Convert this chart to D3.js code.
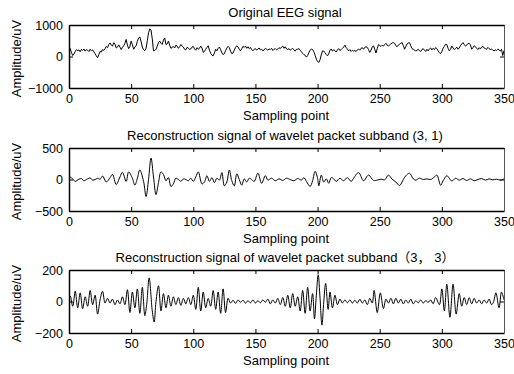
<!DOCTYPE html>
<html>
<head>
<meta charset="utf-8">
<script src="https://cdn.jsdelivr.net/npm/d3@7/dist/d3.min.js"></script>
<style>
  html, body { margin: 0; padding: 0; background: #fff; }
  svg { display: block; font-family: "Liberation Sans", Arial, "Noto Sans CJK SC", sans-serif; }
</style>
</head>
<body>
<svg id="chart" width="514" height="374"></svg>
<script>
// ---- Data ----
const titles = [
  "Original EEG signal",
  "Reconstruction signal of wavelet packet subband (3, 1)",
  "Reconstruction signal of wavelet packet subband（3， 3）"
];
const xLabel = "Sampling point";
const yLabel = "Amplitude/uV";
const xTicks = [0, 50, 100, 150, 200, 250, 300, 350];
const yDomains = [[-1000, 1000], [-500, 500], [-200, 200]];
const yTicks = [[-1000, 0, 1000], [-500, 0, 500], [-200, 0, 200]];

// Original EEG signal, one value per sampling point 0..350
const eegValues = [
  300, 250, 120, 30, 80, 160, 220, 180, 210, 150,
  230, 190, 240, 170, 220, 200, 160, 230, 180, 210,
  150, 90, 20, -40, 60, 160, 140, 220, 190, 250,
  320, 280, 380, 430, 360, 330, 440, 390, 270, 300,
  370, 300, 220, 290, 340, 420, 540, 360, 250, 320,
  490, 380, 230, 300, 340, 480, 590, 620, 470, 300,
  220, 180, 260, 500, 750, 880, 840, 560, 180, 190,
  230, 330, 440, 490, 420, 380, 520, 590, 380, 400,
  490, 360, 260, 290, 320, 270, 360, 330, 260, 310,
  380, 330, 300, 230, 210, 290, 270, 220, 240, 300,
  320, 240, 200, 280, 230, 260, 330, 270, 130, 160,
  230, 290, 340, 200, 100, 40, 20, 110, 230, 180,
  260, 300, 220, 120, 60, 90, 190, 270, 320, 280,
  170, 90, 110, 200, 290, 340, 300, 230, 180, 250,
  320, 290, 330, 260, 310, 250, 290, 220, 180, 230,
  250, 200, 240, 270, 210, 230, 180, 210, 260, 230,
  200, 240, 220, 260, 190, 230, 250, 210, 240, 280,
  250, 300, 330, 260, 310, 240, 220, 250, 200, 230,
  260, 210, 170, 230, 230, 250, 200, 150, 100, 60,
  40, -20, 30, 120, 200, 240, 220, 150, 40, -80,
  -160, -190, -100, 60, 180, 170, 120, 60, 20, 90,
  200, 240, 170, 220, 180, 140, 210, 250, 190, 220,
  260, 300, 360, 280, 240, 180, 220, 160, 200, 170,
  190, 160, 210, 240, 200, 260, 280, 230, 290, 310,
  290, 220, 130, 200, 300, 340, 230, 110, 250, 380,
  350, 320, 360, 330, 380, 420, 360, 330, 370, 400,
  430, 440, 420, 340, 310, 360, 400, 420, 440, 350,
  230, 320, 400, 430, 440, 340, 250, 230, 210, 170,
  200, 230, 180, 160, 220, 250, 200, 160, 230, 180,
  240, 270, 210, 260, 220, 280, 250, 180, 120, 95,
  160, 260, 320, 390, 380, 260, 180, 230, 330, 270,
  220, 250, 300, 230, 270, 350, 400, 440, 380, 330,
  360, 410, 420, 370, 230, 280, 340, 310, 260, 220,
  280, 240, 300, 320, 270, 250, 230, 290, 250, 220,
  240, 200, 180, 210, 190, 230, 220, 170, 230, 30,
  190
];

// Subband (3,1): sampling points and values at the turning points
const sub31X = [0,1,3,5,8,10,12,15,17,19,21,23,25,27,30,33,35,38,41,43,46,48,51,53,55,57,60,62,64,66,68,70,72,74,76,78,80,82,84,86,88,90,92,94,96,98,100,102,104,107,109,111,113,115,117,119,121,123,125,127,129,131,133,135,137,139,141,143,145,147,149,152,155,158,160,163,166,169,172,175,178,181,184,187,189,191,194,196,198,200,201,203,205,207,209,211,213,215,218,221,224,227,229,233,237,241,245,248,251,254,257,260,263,266,269,271,274,277,279,282,285,288,291,294,296,299,301,304,306,308,311,314,317,320,323,326,329,332,335,338,341,344,347,350];
const sub31Y = [20,35,10,-30,5,15,-20,10,25,-10,0,20,5,55,-40,30,80,-80,40,115,-30,120,20,-90,20,150,-30,-270,0,340,40,-240,-50,120,80,-20,30,-110,-70,20,0,-30,10,0,-20,20,-30,40,120,-70,-40,60,-30,30,-50,20,-10,110,-100,-40,150,-20,-100,90,0,-90,10,-40,20,0,-30,100,-60,60,-10,20,-20,10,-15,20,0,-20,15,-10,30,-30,-110,-20,130,20,-100,70,-40,10,-60,30,10,-30,20,-20,30,-30,20,110,-20,70,-15,-10,5,-5,70,5,-40,-95,0,60,100,10,-10,20,0,10,0,40,70,-90,-20,60,20,-25,20,-10,15,-15,10,-20,0,15,-10,10,-5,5,-10,10];

// Subband (3,3): sampling points and values at the turning points
const sub33X = [0,1,3,5,7,9,11,13,15,17,19,21,23,25,27,29,31,33,35,37,39,41,43,45,47,49,51,53,55,57,59,61,62.5,64.5,67,68.5,70,72,74,76,78,80,82,84,86,88,90,92,94,96,98,100,102,104,106,108,110,112,114,116,118,120,122,124,126,128,130,132,134,136,138,140,142,144,146,148,150,152,154,156,158,160,162,164,166,168,170,172,174,176,178,180,182,184,186,188,190,192,194,196,197.5,199,200.5,202,203.5,205,206.5,208.5,210,212,214,216,218,220,222,224,226,228,230,232,234,236,238,240,242,244,245.5,248,250.5,253,255,257,259,261,263,265,267,269,271,273,275,277,279,281,283,285,287,289,291,293,295,298,300,302,304,306.5,309,311.5,314,316,318,320,322,324,326,328,330,332,334,336,338,340,341.5,343.5,346,348,350];
const sub33Y = [0,35,-30,65,-40,55,-45,30,-30,70,-20,40,-80,10,65,-10,20,-10,15,-20,10,-15,30,-20,75,-70,60,-40,80,-75,90,-90,-20,150,-60,-130,0,100,-60,50,-40,40,-30,30,-20,25,-25,20,-15,25,-20,40,-50,90,-60,60,-40,20,-30,70,-50,60,-75,80,-70,20,-10,8,-12,10,-5,8,-10,5,-8,10,-10,5,-8,10,-5,15,-15,10,-10,20,-20,25,-30,40,-40,50,-30,30,-60,70,-75,90,-60,50,-110,40,170,20,-150,0,115,-50,60,-40,40,-20,15,-10,10,-8,10,-10,8,-10,15,-10,10,-20,20,-10,70,-70,55,-45,15,-10,20,-15,20,-10,15,-15,10,-10,15,-15,5,-8,10,-10,5,-5,10,-15,25,-20,80,-60,110,-100,110,-80,50,-30,25,-20,25,-15,20,-10,10,-15,10,-10,15,-20,-5,55,-40,60,10];

// ---- Layout ----
const W = 514, H = 374;
const left = 69, right = 504;
const tops = [25, 148, 270];
const ph = 63;

const svg = d3.select("#chart");
svg.append("rect").attr("width", W).attr("height", H).attr("fill", "#fff");

const x = d3.scaleLinear().domain([0, 350]).range([left, right]);
const fmt = d3.format("d");

const series = [
  { xs: d3.range(eegValues.length), ys: eegValues, curve: d3.curveLinear },
  { xs: sub31X, ys: sub31Y, curve: d3.curveCatmullRom.alpha(0.5) },
  { xs: sub33X, ys: sub33Y, curve: d3.curveCatmullRom.alpha(0.5) }
];

series.forEach((s, k) => {
  const top = tops[k], bottom = top + ph;
  const y = d3.scaleLinear().domain(yDomains[k]).range([bottom, top]);
  const g = svg.append("g");

  svg.append("clipPath").attr("id", "clip" + k)
    .append("rect").attr("x", left).attr("y", top).attr("width", right - left).attr("height", ph);

  const pts = s.xs.map((xv, i) => [xv, s.ys[i]]);
  g.append("path")
    .attr("clip-path", `url(#clip${k})`)
    .attr("d", d3.line().x(d => x(d[0])).y(d => y(d[1])).curve(s.curve)(pts))
    .attr("fill", "none").attr("stroke", "#000").attr("stroke-width", 1);

  const fs = "12.5px";
  const gb = svg.append("g").attr("transform", `translate(0,${bottom})`)
    .call(d3.axisBottom(x).tickValues(xTicks).tickFormat(fmt).tickSizeInner(-4).tickSizeOuter(0).tickPadding(6));
  const gt = svg.append("g").attr("transform", `translate(0,${top})`)
    .call(d3.axisTop(x).tickValues(xTicks).tickSizeInner(-4).tickSizeOuter(0).tickFormat(""));
  const gl = svg.append("g").attr("transform", `translate(${left},0)`)
    .call(d3.axisLeft(y).tickValues(yTicks[k]).tickFormat(fmt).tickSizeInner(-4).tickSizeOuter(0).tickPadding(6));
  const gr = svg.append("g").attr("transform", `translate(${right},0)`)
    .call(d3.axisRight(y).tickValues(yTicks[k]).tickSizeInner(-4).tickSizeOuter(0).tickFormat(""));

  [gb, gt, gl, gr].forEach(a => {
    a.selectAll("text").attr("font-size", fs).attr("fill", "#000")
      .attr("font-family", '"Liberation Sans", Arial, sans-serif');
    a.selectAll(".tick line").attr("stroke", "#000").attr("stroke-width", 1);
  });
  [gb, gt, gl].forEach(a => a.select(".domain").attr("stroke", "#000").attr("stroke-width", 1.5));
  gr.select(".domain").attr("stroke", "#555").attr("stroke-width", 1);

  svg.append("text").attr("x", 285).attr("y", top - 8)
    .attr("text-anchor", "middle").attr("font-size", "13px").attr("fill", "#000")
    .text(titles[k]);
  svg.append("text").attr("x", 286).attr("y", bottom + 32)
    .attr("text-anchor", "middle").attr("font-size", "13px").attr("fill", "#000")
    .text(xLabel);
  svg.append("text")
    .attr("transform", `translate(21,${top + ph / 2 + 2}) rotate(-90)`)
    .attr("text-anchor", "middle").attr("font-size", "13px").attr("fill", "#000")
    .text(yLabel);
});
</script>
</body>
</html>
